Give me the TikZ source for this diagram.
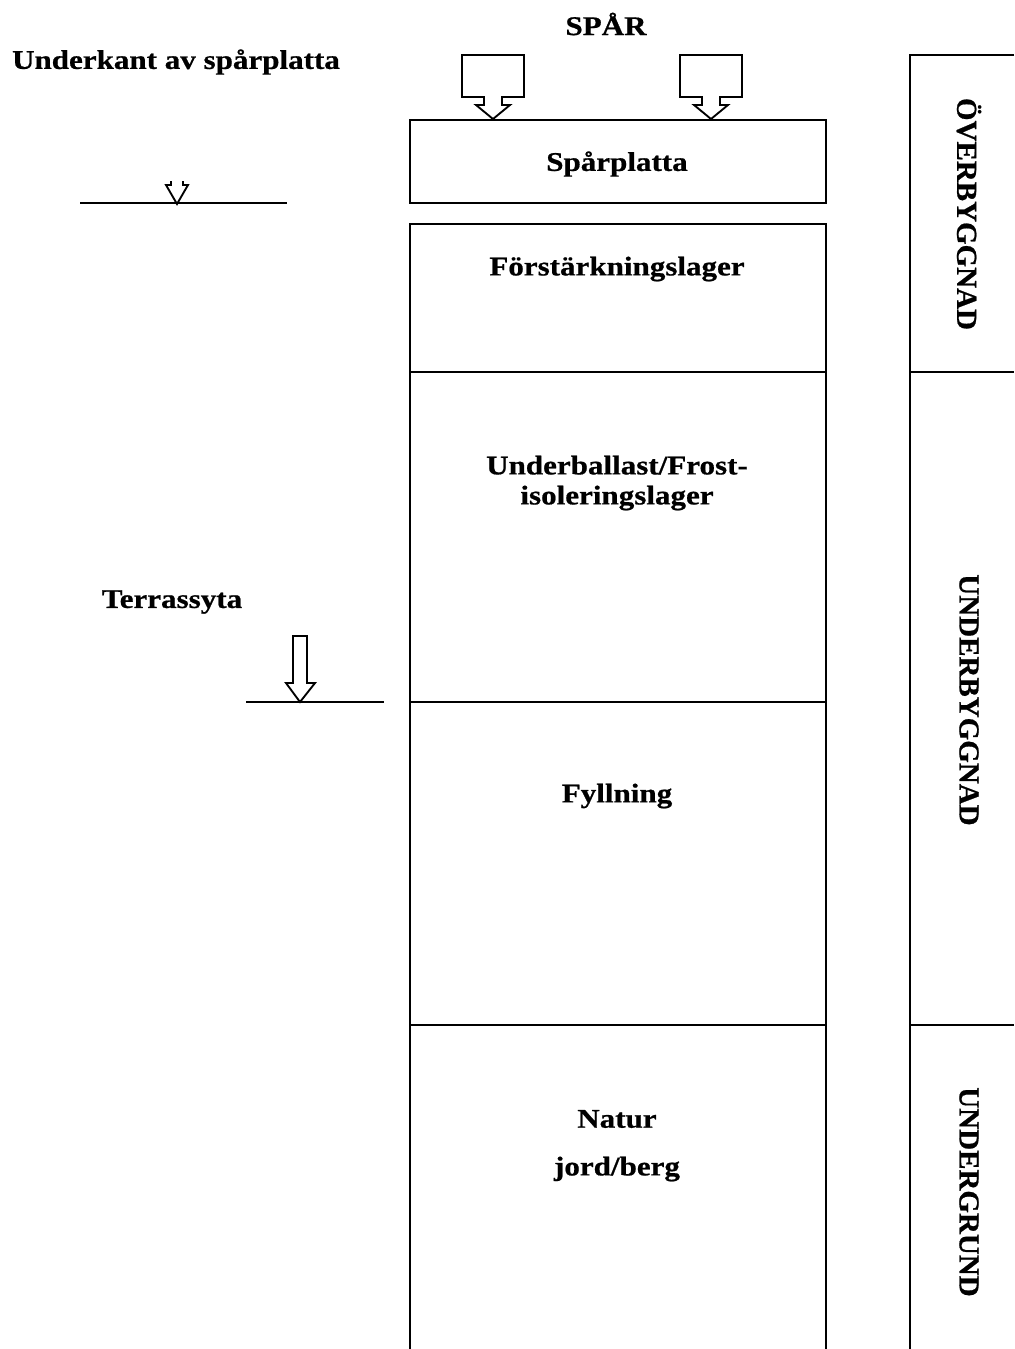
\documentclass[tikz,border=0pt]{standalone}
\usepackage{fontspec}
\setmainfont{Liberation Serif}
\newfontfamily\labelfont[FakeStretch=1.15,FakeBold=0.7]{Liberation Serif Bold}
\newfontfamily\sidefont[FakeBold=0.7]{Liberation Serif Bold}
\begin{document}
\begin{tikzpicture}[x=0.75pt,y=-0.75pt,line width=1.4pt,line join=miter,
  lbl/.style={font=\labelfont\fontsize{20.25}{22.5}\selectfont,align=center,inner sep=0pt},
  vlbl/.style={font=\sidefont\fontsize{21.75}{24}\selectfont,rotate=-90,inner sep=0pt},
  pics/trackload/.style={code={
    \draw (-31,-64) -- (31,-64) -- (31,-22) -- (9,-22) -- (9,-14) -- (17,-14)
          -- (0,0) -- (-17,-14) -- (-9,-14) -- (-9,-22) -- (-31,-22) -- cycle;
  }}]
\useasboundingbox (0,0) rectangle (1014,1349);

% track slab
\draw (410,120) rectangle (826,203);

% layered column, open at the bottom
\draw (410,1349) -- (410,224) -- (826,224) -- (826,1349);
\draw (410,372) -- (826,372);
\draw (410,702) -- (826,702);
\draw (410,1025) -- (826,1025);

% classification column on the right
\draw (1014,55) -- (910,55) -- (910,1349);
\draw (910,372) -- (1014,372);
\draw (910,1025) -- (1014,1025);

% rail loads
\pic at (493,119) {trackload};
\pic at (711,119) {trackload};

% level mark: underside of slab
\draw (80,203) -- (287,203);
\draw (171,181) -- (171,185) -- (166,185) -- (177,204) -- (188,185) -- (183,185) -- (183,181);

% level mark: formation surface
\draw (246,702) -- (384,702);
\draw (293,636) -- (307,636) -- (307,683) -- (315,683) -- (300,702) -- (286,683) -- (293,683) -- cycle;

% labels
\node[lbl] (spar) at (606,24) {SPÅR};
\node[lbl] (uk) at (176,62) {Underkant av spårplatta};
\node[lbl] (slab) at (617,164) {Spårplatta};
\node[lbl] (fsl) at (617,269) {Förstärkningslager};
\node[lbl] (ub) at (617,483) {Underballast/Frost-\\isoleringslager};
\node[lbl] (terr) at (172,602) {Terrassyta};
\node[lbl] (fyll) at (617,796) {Fyllning};
\node[lbl] (natur) at (617,1119) {Natur};
\node[lbl] (jord) at (617,1169) {jord/berg};

\node[vlbl] (ob) at (969,214) {ÖVERBYGGNAD};
\node[vlbl] (unb) at (969,700) {UNDERBYGGNAD};
\node[vlbl] (ung) at (969,1192) {UNDERGRUND};
\end{tikzpicture}
\end{document}
